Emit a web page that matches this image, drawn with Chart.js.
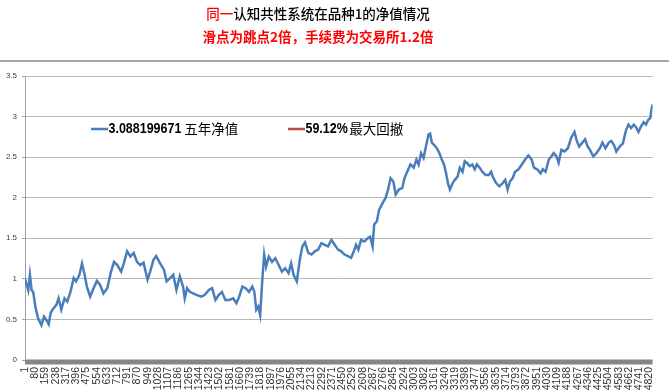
<!DOCTYPE html>
<html><head><meta charset="utf-8">
<script src="https://cdn.jsdelivr.net/npm/chart.js@4"></script>
<style>html,body{margin:0;padding:0;background:#fff;overflow:hidden}#wrap{width:669px;height:392px;position:relative}</style>
</head><body><div id="wrap"><canvas id="c" width="669" height="392"></canvas></div>
<script>
// ---- DATA ----
const tickLabels = [1,80,159,238,317,396,475,554,633,712,791,870,949,1028,1107,1186,1265,1344,1423,1502,1581,1660,1739,1818,1897,1976,2055,2134,2213,2292,2371,2450,2529,2608,2687,2766,2845,2924,3003,3082,3161,3240,3319,3398,3477,3556,3635,3714,3793,3872,3951,4030,4109,4188,4267,4346,4425,4504,4583,4662,4741,4820];
const navIndex = [1,26,39,52,64,83,102,128,148,167,184,199,217,243,260,281,306,327,352,377,395,421,441,459,479,504,530,556,581,606,636,662,688,713,743,764,789,815,840,865,891,916,947,967,993,1013,1044,1074,1094,1120,1145,1170,1196,1221,1234,1252,1273,1298,1328,1361,1387,1420,1445,1471,1496,1521,1547,1578,1608,1633,1654,1679,1704,1730,1755,1771,1786,1801,1816,1832,1847,1862,1883,1908,1933,1959,1984,2009,2035,2055,2074,2099,2124,2142,2162,2188,2213,2238,2264,2289,2315,2340,2366,2391,2417,2442,2467,2493,2518,2539,2556,2574,2595,2620,2646,2665,2684,2696,2717,2734,2760,2785,2803,2823,2844,2862,2887,2913,2930,2951,2976,3001,3022,3039,3058,3077,3098,3116,3128,3141,3159,3180,3199,3218,3235,3251,3268,3281,3302,3319,3340,3357,3378,3395,3413,3434,3454,3472,3489,3510,3530,3556,3581,3599,3611,3637,3662,3688,3708,3726,3744,3764,3784,3810,3836,3861,3886,3912,3929,3954,3980,3998,4019,4044,4064,4082,4103,4120,4141,4166,4191,4217,4242,4260,4278,4298,4324,4344,4362,4387,4412,4438,4458,4481,4507,4527,4547,4565,4591,4616,4641,4659,4679,4700,4717,4736,4756,4776,4794,4812,4827,4837,4845];
const navValues = [1.00,0.86,1.05,0.86,0.84,0.64,0.515,0.43,0.535,0.49,0.44,0.58,0.63,0.68,0.76,0.62,0.76,0.72,0.84,1.01,0.97,1.05,1.19,1.07,0.90,0.78,0.885,0.975,0.925,0.82,0.885,1.07,1.21,1.17,1.09,1.19,1.34,1.275,1.32,1.21,1.17,1.20,0.99,1.09,1.235,1.28,1.19,1.11,0.97,1.01,1.05,0.864,1.03,0.905,0.76,0.885,0.84,0.82,0.80,0.78,0.80,0.864,0.885,0.74,0.80,0.84,0.74,0.74,0.76,0.70,0.78,0.905,0.885,0.84,0.905,0.84,0.62,0.66,0.555,0.97,1.30,1.15,1.275,1.21,1.255,1.17,1.09,1.13,1.07,1.19,1.05,0.97,1.255,1.40,1.45,1.32,1.30,1.34,1.36,1.44,1.42,1.40,1.48,1.42,1.36,1.34,1.30,1.28,1.26,1.34,1.42,1.36,1.48,1.46,1.50,1.52,1.40,1.67,1.71,1.85,1.93,2.00,2.10,2.24,2.20,2.04,2.10,2.12,2.24,2.32,2.41,2.37,2.47,2.41,2.55,2.49,2.65,2.78,2.79,2.68,2.65,2.61,2.55,2.47,2.41,2.30,2.16,2.10,2.18,2.22,2.26,2.37,2.32,2.45,2.43,2.39,2.41,2.35,2.41,2.37,2.32,2.28,2.28,2.32,2.26,2.18,2.14,2.18,2.22,2.10,2.20,2.24,2.32,2.35,2.41,2.47,2.52,2.47,2.37,2.35,2.30,2.35,2.32,2.47,2.51,2.55,2.51,2.43,2.59,2.57,2.61,2.74,2.81,2.70,2.63,2.67,2.72,2.63,2.59,2.51,2.55,2.61,2.68,2.61,2.68,2.70,2.65,2.57,2.63,2.67,2.84,2.90,2.86,2.90,2.87,2.81,2.88,2.93,2.90,2.96,2.98,3.09,3.15];
const drawdownValues = [];
const seriesNames = ['3.088199671 五年净值', '59.12%最大回撤'];
const yTickStep = 0.5;
const titleRedPart = '同一';
const titleRest = '认知共性系统在品种1的净值情况';
const subTitle = '滑点为跳点2倍，手续费为交易所1.2倍';

// ---- STYLE / LAYOUT ----
const BLUE = '#4A7EBB', RED = '#BE4B48';
const CJK = "'Noto Sans CJK SC'";

const decorPlugin = {
  id: 'decor',
  beforeDatasetsDraw(chart) {
    const {ctx, chartArea} = chart;
    ctx.save();
    ctx.fillStyle = '#868686';
    ctx.fillRect(chartArea.left, chartArea.bottom - 0.5, chartArea.right - chartArea.left, 5);
    ctx.restore();
  },
  afterDraw(chart) {
    const {ctx, width} = chart;
    ctx.save();
    // separator
    ctx.strokeStyle = '#a6a6a6';
    ctx.lineWidth = 2;
    ctx.beginPath(); ctx.moveTo(0, 61); ctx.lineTo(width, 61); ctx.stroke();
    // title line 1
    ctx.textBaseline = 'middle';
    ctx.font = '500 13.5px ' + CJK;
    const w1 = ctx.measureText(titleRedPart).width, w2 = ctx.measureText(titleRest).width;
    let x = 318 - (w1 + w2) / 2;
    ctx.fillStyle = '#FF0000'; ctx.fillText(titleRedPart, x, 14);
    ctx.fillStyle = '#000000'; ctx.fillText(titleRest, x + w1, 14);
    // title line 2
    ctx.font = 'bold 13.5px ' + CJK;
    const w3 = ctx.measureText(subTitle).width;
    ctx.fillStyle = '#FF0000'; ctx.fillText(subTitle, 318 - w3 / 2, 37);
    // legend
    const items = chart.data.datasets.map(d => ({label: d.label, color: d.borderColor}));
    const starts = [91, 288];
    const sx = 0.86;
    items.forEach((it, i) => {
      const x0 = starts[i], y0 = 129;
      ctx.strokeStyle = it.color; ctx.lineWidth = 2.5;
      ctx.beginPath(); ctx.moveTo(x0, y0); ctx.lineTo(x0 + 17, y0); ctx.stroke();
      const m = it.label.search(/[\u4e00-\u9fff]/);
      const num = it.label.slice(0, m).trim(), cjk = it.label.slice(m);
      ctx.fillStyle = '#000';
      ctx.font = "bold 14.5px 'Liberation Sans'";
      const nw = ctx.measureText(num).width * sx;
      ctx.save();
      ctx.translate(x0 + 17.5, y0);
      ctx.scale(sx, 1);
      ctx.fillText(num, 0, 0);
      ctx.restore();
      ctx.font = '13.5px ' + CJK;
      ctx.fillText(cjk, x0 + 17.5 + nw + (i === 0 ? 3 : 1.5), y0);
    });
    ctx.restore();
  }
};

new Chart(document.getElementById('c'), {
  type: 'line',
  data: {
    datasets: [
      { label: seriesNames[0], data: navIndex.map((x, i) => ({x, y: navValues[i]})),
        borderColor: BLUE, borderWidth: 2.5, pointRadius: 0, tension: 0, fill: false },
      { label: seriesNames[1], data: drawdownValues,
        borderColor: RED, borderWidth: 2.5, pointRadius: 0, fill: false }
    ]
  },
  options: {
    responsive: false,
    animation: false,
    devicePixelRatio: 1,
    layout: { padding: { top: 76, right: 9, left: 0, bottom: 0 } },
    plugins: { legend: { display: false }, title: { display: false }, tooltip: { enabled: false } },
    scales: {
      x: {
        type: 'linear', min: 1, max: 4845,
        grid: { display: false, drawTicks: false },
        border: { display: false },
        afterBuildTicks: s => { s.ticks = tickLabels.map(v => ({value: v})); },
        afterFit: s => { s.height = 32; },
        ticks: { autoSkip: false, minRotation: 90, maxRotation: 90, padding: 7,
          color: '#333333', font: { family: "'Liberation Sans'", size: 10.5 },
          callback: v => String(v) }
      },
      y: {
        min: 0, max: 3.5,
        afterFit: s => { s.width = 25; },
        grid: { color: '#b8b8b8', lineWidth: 1, tickLength: 3, drawTicks: true, tickColor: '#a0a0a0' },
        border: { display: true, color: '#a0a0a0', width: 1 },
        ticks: { stepSize: yTickStep, padding: 5, color: '#404040',
          font: { family: "'Liberation Sans'", size: 8 }, callback: v => String(v) }
      }
    }
  },
  plugins: [decorPlugin]
});
</script>
</body></html>
